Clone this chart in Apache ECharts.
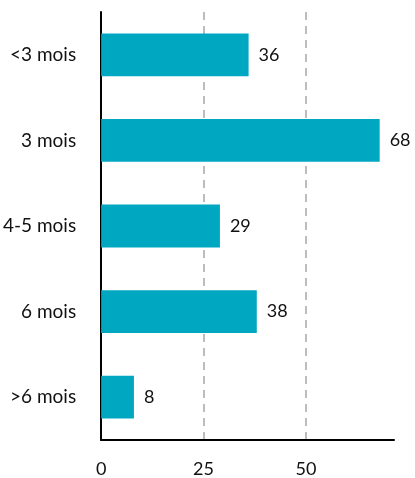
<!DOCTYPE html>
<html>
<head>
<meta charset="utf-8">
<script src="https://cdn.jsdelivr.net/npm/echarts@6/dist/echarts.min.js"></script>
<style>
  html, body { margin: 0; padding: 0; background: #fff; }
  #chart { width: 415px; height: 478px; }
</style>
</head>
<body>
<div id="chart"></div>
<script>
// catégories, de haut en bas
var categories = ['<3 mois', '3 mois', '4-5 mois', '6 mois', '>6 mois']
var values = [36, 68, 29, 38, 8]
var xTicks = [0, 25, 50]

var chart = echarts.init(document.getElementById('chart'))

// lignes pointillées seulement aux graduations (pas à 0 ni au max)
var gridLines = xTicks.filter(function (t) { return t > 0 }).map(function (t) {
  return { xAxis: t }
})

var option = {
  animation: false,
  textStyle: { fontFamily: 'Lato' },
  grid: { left: 101, right: 21, top: 12, bottom: 37, containLabel: false },
  xAxis: {
    type: 'value',
    min: 0,
    max: 71.5,
    interval: 25,
    axisLine: { show: true, lineStyle: { color: '#000', width: 2 } },
    axisTick: { show: false },
    axisLabel: {
      color: '#111',
      fontSize: 18,
      margin: 20,
      formatter: function (v) { return xTicks.indexOf(v) >= 0 ? String(v) : '' }
    },
    splitLine: { show: false }
  },
  yAxis: {
    type: 'category',
    inverse: true,
    data: categories,
    axisLine: { show: true, lineStyle: { color: '#000', width: 2 } },
    axisTick: { show: false },
    axisLabel: { color: '#111', fontSize: 19, margin: 25 }
  },
  series: [{
    type: 'bar',
    data: values,
    barWidth: '50%',
    itemStyle: { color: '#00a7c1' },
    label: {
      show: true,
      position: 'right',
      distance: 10,
      color: '#111',
      fontSize: 18
    },
    markLine: {
      silent: true,
      symbol: 'none',
      label: { show: false },
      lineStyle: { color: '#bdbdbd', type: [8, 6], width: 2 },
      data: gridLines,
      z: 0
    }
  }]
}

chart.setOption(option)
</script>
</body>
</html>
